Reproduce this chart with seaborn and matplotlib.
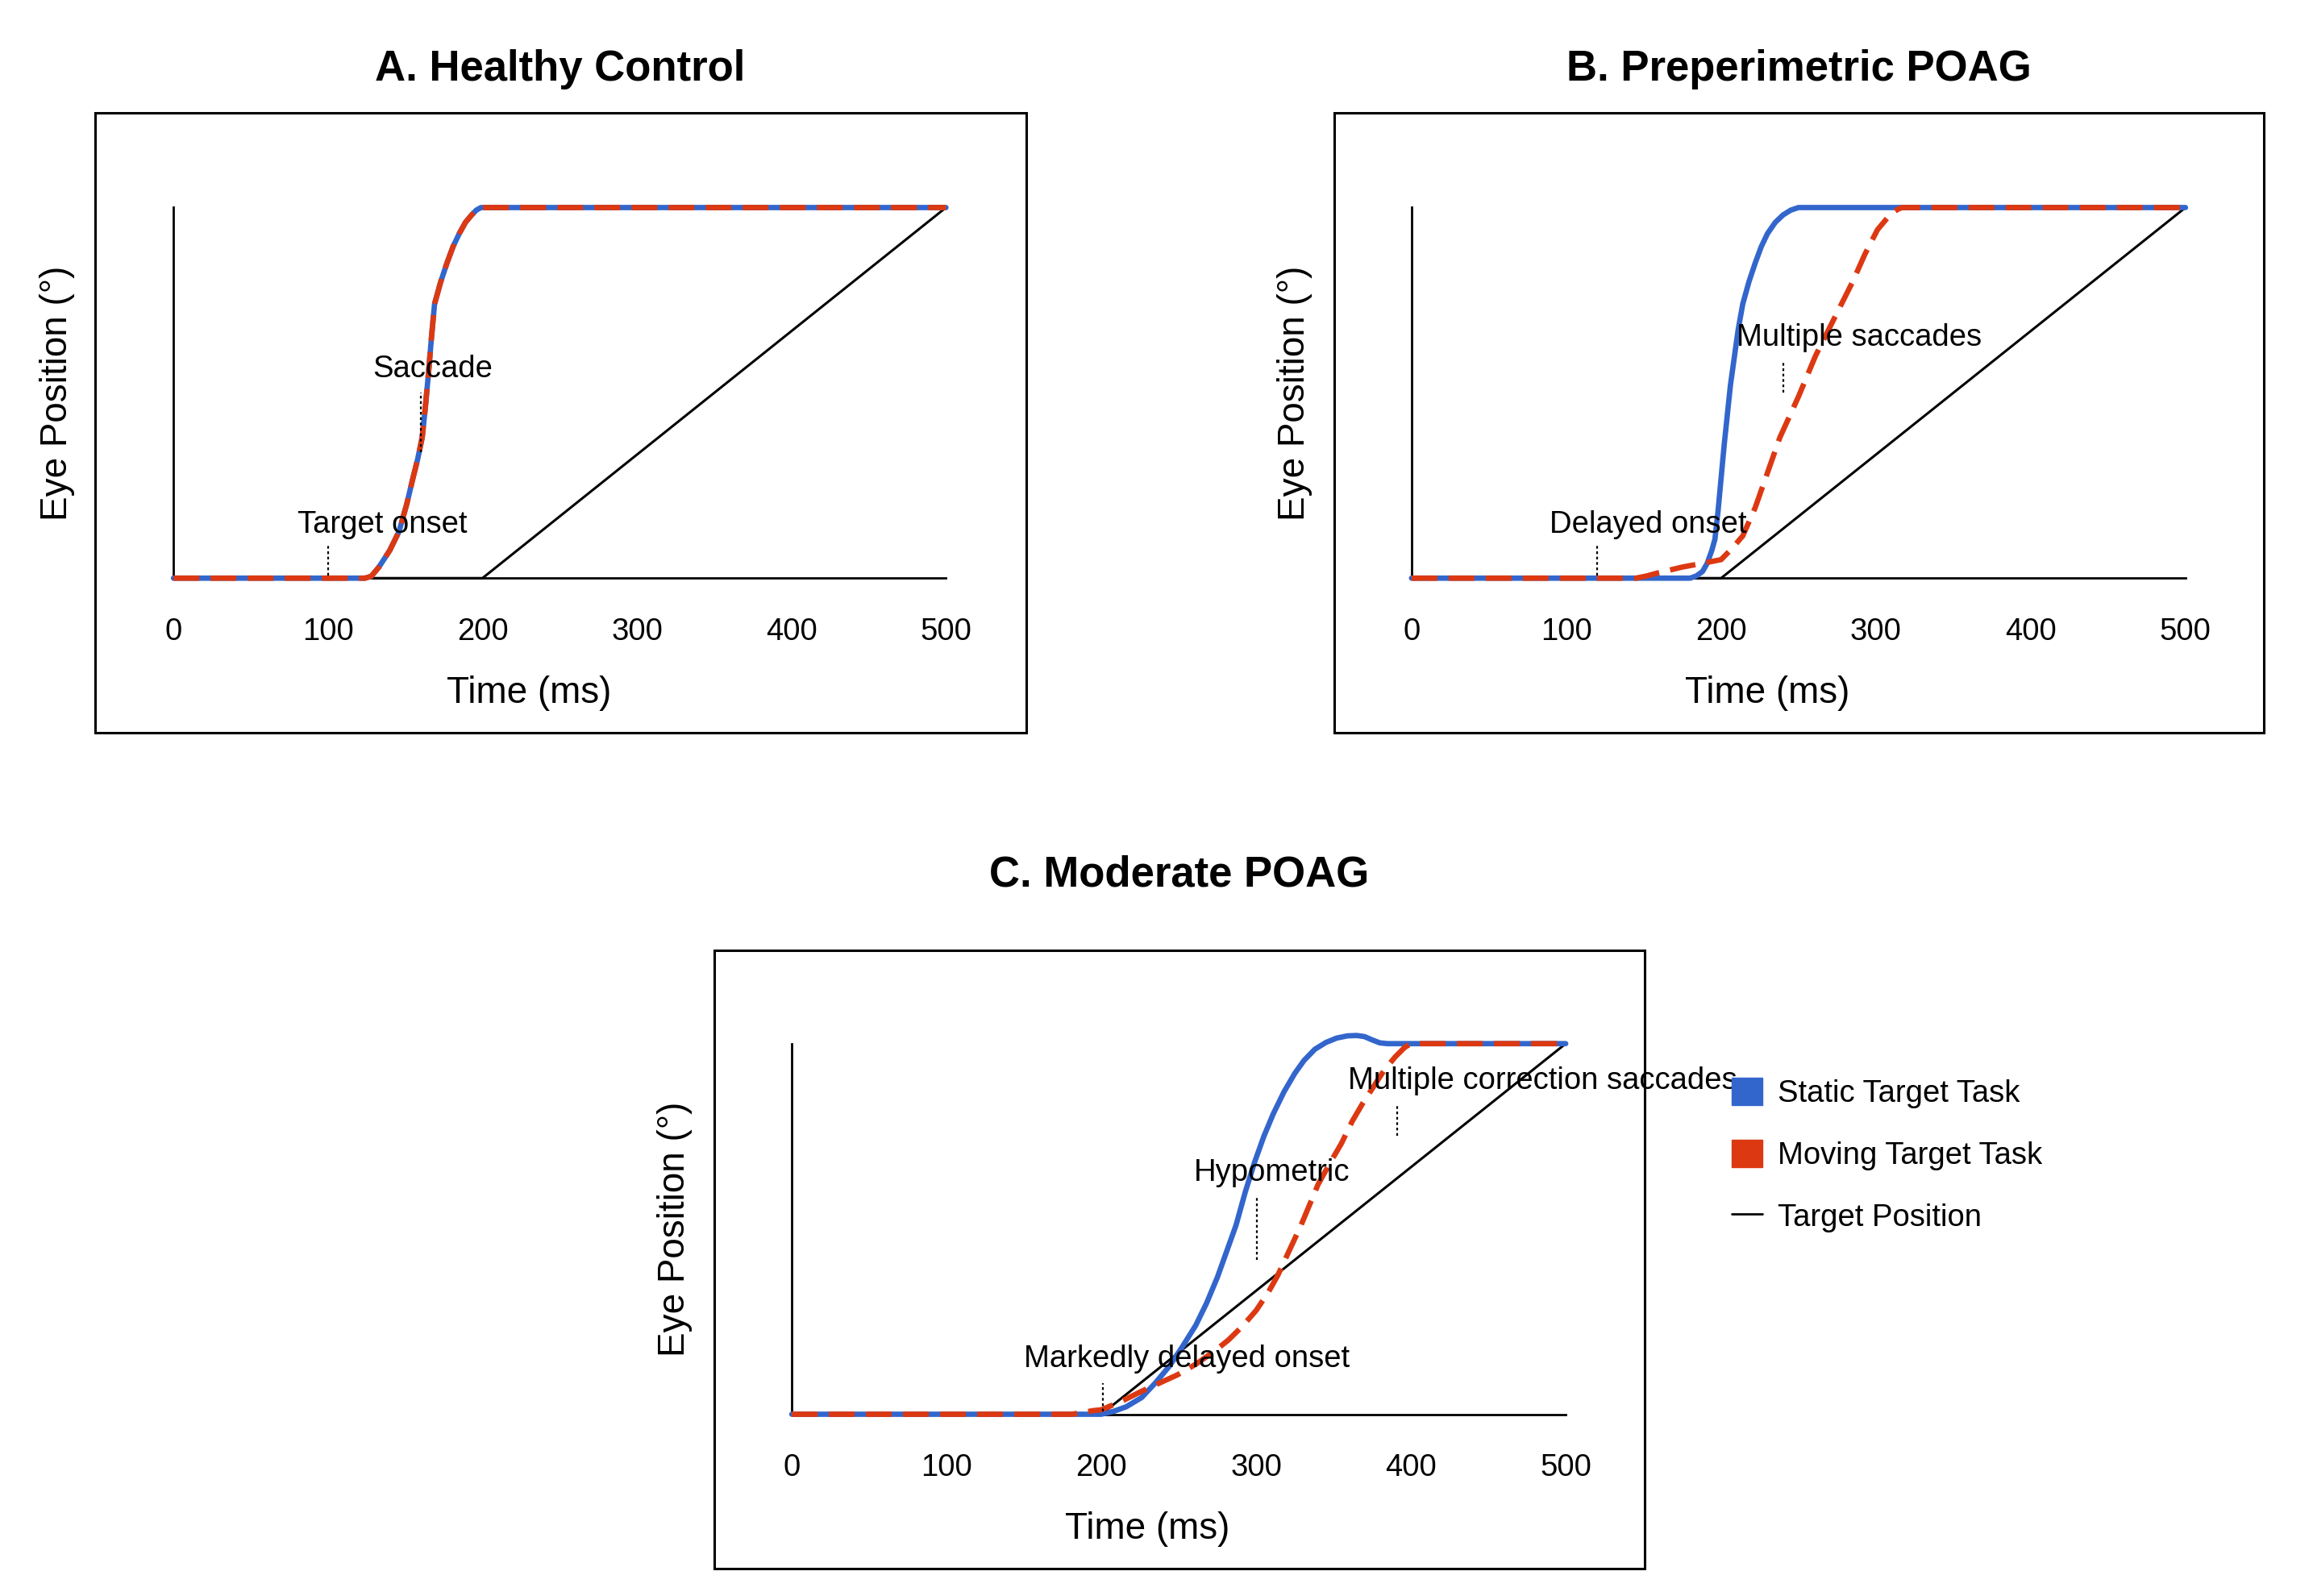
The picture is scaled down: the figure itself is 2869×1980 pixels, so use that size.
import numpy as np
import pandas as pd
import seaborn as sns
import matplotlib.pyplot as plt
from matplotlib.patches import Patch, Rectangle
from matplotlib.lines import Line2D

sns.set_theme(style="white")
plt.rcParams['font.family'] = ['Liberation Sans', 'DejaVu Sans']
plt.rcParams['text.color'] = 'black'
plt.rcParams['axes.labelcolor'] = 'black'
plt.rcParams['xtick.color'] = 'black'

BLUE = '#3366cc'
RED = '#dc3912'

# target position (same in all panels)
target_t = [0, 200, 500]
target_y = [0, 0, 1]

# A. Healthy control - static and moving overlap
a_t = [0, 124, 128, 133, 140, 146, 151, 155, 158, 161, 163, 165, 167, 169, 173, 177,
       181, 185, 189, 193, 196, 199, 500]
a_y = [0, 0, 0.005, 0.03, 0.075, 0.126, 0.2, 0.27, 0.32, 0.38, 0.46, 0.55, 0.65, 0.74,
       0.80, 0.85, 0.895, 0.93, 0.96, 0.98, 0.993, 1.0, 1.0]

# B. Preperimetric POAG
b_static_t = [0, 180, 184, 188, 191, 194, 196, 198, 200, 202, 204, 206, 208, 211, 214,
              218, 222, 226, 230, 235, 240, 245, 250, 500]
b_static_y = [0, 0, 0.006, 0.018, 0.04, 0.075, 0.105, 0.18, 0.27, 0.36, 0.44, 0.52, 0.58,
              0.67, 0.74, 0.80, 0.85, 0.895, 0.93, 0.96, 0.98, 0.993, 1.0, 1.0]
b_moving_t = [0, 145, 152, 159, 167, 175, 188, 200, 207, 214, 222, 230, 238, 250, 261,
              273, 285, 293, 301, 309, 314, 317, 500]
b_moving_y = [0, 0, 0.006, 0.014, 0.022, 0.03, 0.04, 0.05, 0.08, 0.114, 0.19, 0.285, 0.38,
              0.49, 0.60, 0.70, 0.80, 0.875, 0.94, 0.98, 0.995, 1.0, 1.0]

# C. Moderate POAG
c_static_t = [0, 200, 208, 216, 226, 235, 244, 252, 261, 268, 275, 281, 287, 293, 299, 305,
              311, 318, 325, 331, 338, 345, 352, 359, 365, 370, 375, 380, 385, 500]
c_static_y = [0, 0, 0.008, 0.02, 0.045, 0.085, 0.13, 0.18, 0.24, 0.30, 0.37, 0.44, 0.51,
              0.60, 0.68, 0.75, 0.81, 0.87, 0.92, 0.955, 0.985, 1.003, 1.015, 1.021, 1.022,
              1.019, 1.01, 1.002, 1.0, 1.0]
c_moving_t = [0, 181, 188, 195, 200, 213, 226, 238, 249, 261, 273, 282, 291, 300, 308, 314,
              319, 324, 329, 335, 340, 348, 355, 362, 369, 376, 383, 390, 396, 400, 500]
c_moving_y = [0, 0, 0.005, 0.01, 0.012, 0.035, 0.062, 0.085, 0.106, 0.135, 0.17, 0.20, 0.237,
              0.28, 0.33, 0.375, 0.42, 0.465, 0.51, 0.57, 0.62, 0.68, 0.73, 0.79, 0.84, 0.885,
              0.93, 0.965, 0.99, 1.0, 1.0]

# annotations: text, text x/y, dotted line x, y0, y1
ann_a = [("Target onset", 135, 0.144, 100, 0.008, 0.088),
         ("Saccade", 168, 0.564, 160, 0.34, 0.50)]
ann_b = [("Delayed onset", 153, 0.144, 120, 0.008, 0.088),
         ("Multiple saccades", 289, 0.648, 240, 0.50, 0.584)]
ann_c = [("Markedly delayed onset", 255, 0.148, 201, 0.008, 0.084),
         ("Hypometric", 310, 0.652, 300.5, 0.416, 0.584),
         ("Multiple correction saccades", 485, 0.90, 391, 0.752, 0.836)]

xticks = [0, 100, 200, 300, 400, 500]

fig = plt.figure(figsize=(28.69, 19.80), dpi=100)

W, H = 1560.0, 1076.6


def fx(px):
    return px / W


def fy(py):
    return 1 - py / H


def make_panel(box, axis, title, title_y, static, moving, anns):
    bx0, by0, bx1, by1 = box
    fig.patches.append(Rectangle((fx(bx0), fy(by1)), fx(bx1) - fx(bx0), fy(by0) - fy(by1),
                                 transform=fig.transFigure, fill=False, ec='black', lw=2.2))
    ax0, ay0, ax1, ay1 = axis
    ax = fig.add_axes([fx(ax0), fy(ay1), fx(ax1) - fx(ax0), fy(ay0) - fy(ay1)])
    fig.text((fx(bx0) + fx(bx1)) / 2, fy(title_y), title, ha='center', va='center',
             fontsize=38, fontweight='bold')

    df_t = pd.DataFrame({'t': target_t, 'y': target_y})
    sns.lineplot(data=df_t, x='t', y='y', color='black', lw=2.2, ax=ax, clip_on=False, zorder=3)
    df_s = pd.DataFrame({'t': static[0], 'y': static[1]})
    sns.lineplot(data=df_s, x='t', y='y', color=BLUE, lw=4.8, ax=ax, clip_on=False, zorder=4)
    df_m = pd.DataFrame({'t': moving[0], 'y': moving[1]})
    sns.lineplot(data=df_m, x='t', y='y', color=RED, lw=4.8, ax=ax, clip_on=False, zorder=5,
                 linestyle=(0, (4.8, 2.1)))

    for txt, tx, ty, lx, ly0, ly1 in anns:
        ax.text(tx, ty, txt, ha='center', va='center', fontsize=27.5, zorder=6)
        ax.plot([lx, lx], [ly0, ly1], color='black', lw=1.6, ls=(0, (1.5, 1.5)), zorder=6)

    ax.set_xlim(0, 500)
    ax.set_ylim(0, 1)
    ax.set_xticks(xticks)
    ax.set_yticks([])
    ax.tick_params(axis='x', length=0, pad=35, labelsize=27.5)
    for s in ['top', 'right']:
        ax.spines[s].set_visible(False)
    for s in ['left', 'bottom']:
        ax.spines[s].set_color('black')
        ax.spines[s].set_linewidth(2)
    ax.set_xlabel('Time (ms)', fontsize=33, labelpad=26, x=0.46)
    ax.set_ylabel('Eye Position (°)', fontsize=33)
    ax.yaxis.set_label_coords(-0.128, 0.5)
    return ax


make_panel((64, 76, 692, 494), (117, 140, 638, 390), "A. Healthy Control", 47,
           (a_t, a_y), (a_t, a_y), ann_a)
make_panel((900, 76, 1527, 494), (952, 140, 1474, 390), "B. Preperimetric POAG", 47,
           (b_static_t, b_static_y), (b_moving_t, b_moving_y), ann_b)
make_panel((482, 641, 1109, 1058), (534, 704, 1056, 954), "C. Moderate POAG", 590,
           (c_static_t, c_static_y), (c_moving_t, c_moving_y), ann_c)

handles = [Patch(color=BLUE, label='Static Target Task'),
           Patch(color=RED, label='Moving Target Task'),
           Line2D([0], [0], color='black', lw=2, label='Target Position')]
fig.legend(handles=handles, loc='upper left', bbox_to_anchor=(fx(1168), fy(727)),
           frameon=False, fontsize=27.5, handlelength=1.0, handleheight=1.0,
           handletextpad=0.5, labelspacing=1.02, borderpad=0, borderaxespad=0)

fig.savefig('out.png', dpi=100, facecolor='white')
